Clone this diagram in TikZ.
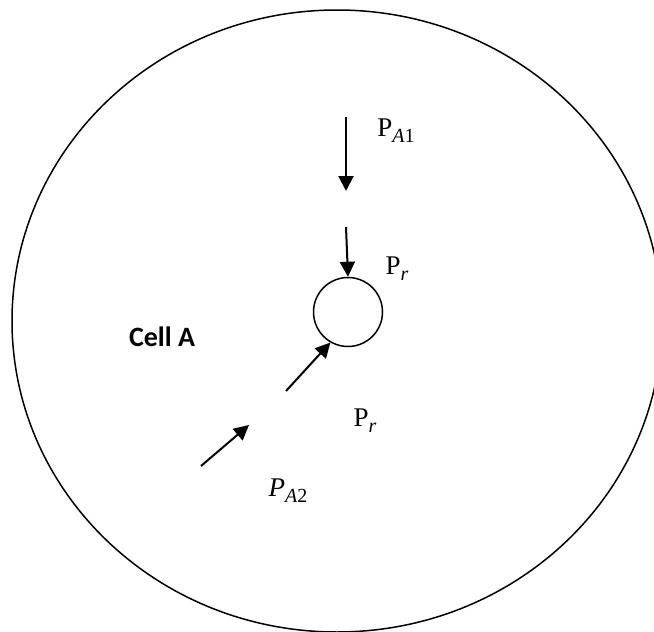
\documentclass[tikz,border=0pt]{standalone}
\usepackage{fontspec}
\newfontfamily\cellfont{Carlito}
\newfontfamily\labfont{Liberation Serif}
\usetikzlibrary{arrows.meta,shapes.geometric}
\newcommand{\subtxt}[1]{\raisebox{-6pt}{\fontsize{20}{22}\selectfont #1}}
\begin{document}
\begin{tikzpicture}[x=1pt,y=-1pt,
  outline/.style={draw=black,line width=1.5pt},
  flow/.style={draw=black,line width=2pt,-{Triangle[length=15pt,width=15pt]}},
  lab/.style={font=\labfont\fontsize{27}{30}\selectfont,inner sep=0pt},
  celllab/.style={font=\cellfont\bfseries\fontsize{28}{32}\selectfont,inner sep=0pt}]
\useasboundingbox (0,0) rectangle (654,632);
\begin{scope}
\clip (0,0) rectangle (654,632);
\node[outline,ellipse,minimum width=650pt,minimum height=622pt,inner sep=0pt] (cell) at (337,321) {};
\end{scope}
\node[outline,circle,minimum size=69pt,inner sep=0pt] (core) at (348,312) {};
% labels
\node[lab] (pa1) at (396,131) {P\subtxt{{\itshape A}1}};
\node[lab] (pr1) at (397,269) {P\subtxt{\itshape r}};
\node[lab] (pr2) at (365,421) {P\subtxt{\itshape r}};
\node[lab] (pa2) at (288,491) {\itshape P\subtxt{{\itshape A}\upshape 2}};
\node[celllab] (cella) at (162,337) {Cell A};
% arrows
\coordinate (a1s) at (346,117);
\coordinate (a1e) at (346,191);
\coordinate (a2s) at (346,227);
\coordinate (a3s) at (286,391);
\coordinate (a4s) at (201,466);
\coordinate (a4e) at (249,425);
\draw[flow] (a1s) -- (a1e);
\draw[flow] (a2s) -- (core.north);
\draw[flow] (a3s) -- (core.240);
\draw[flow] (a4s) -- (a4e);
\end{tikzpicture}
\end{document}
